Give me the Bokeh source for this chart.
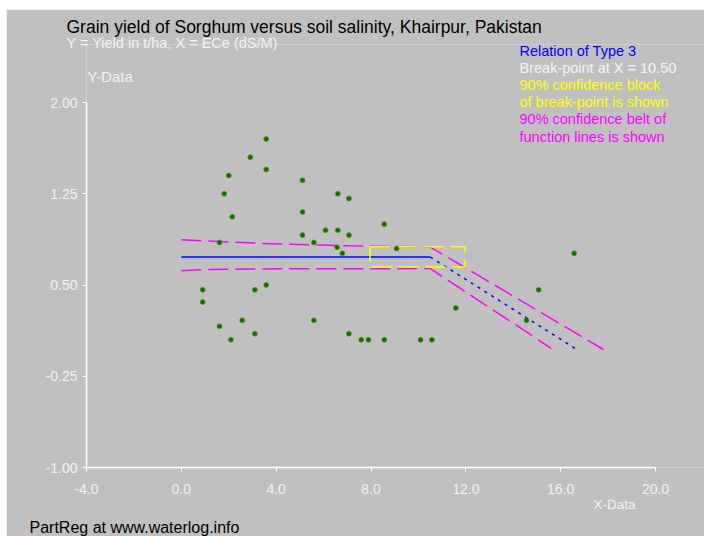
from bokeh.plotting import figure
from bokeh.models import Range1d, FixedTicker, PrintfTickFormatter, Label, Title
from bokeh.embed import file_html
from bokeh.resources import INLINE

# ---- data ----
x_obs = [3.58, 2.91, 2.00, 3.58, 5.11, 1.81, 6.60, 7.07, 2.15, 5.11,
         8.56, 6.08, 6.60, 5.11, 7.07, 1.61, 5.59, 6.57, 9.08, 6.79,
         16.57, 3.58, 0.90, 3.10, 15.07, 0.90, 11.58, 2.57, 5.59, 14.56,
         1.61, 3.10, 7.07, 2.09, 7.59, 7.89, 8.56, 10.09, 10.57]
y_obs = [1.70, 1.55, 1.40, 1.45, 1.36, 1.25, 1.25, 1.21, 1.06, 1.10,
         1.00, 0.95, 0.95, 0.91, 0.91, 0.85, 0.85, 0.81, 0.80, 0.76,
         0.76, 0.50, 0.46, 0.46, 0.46, 0.36, 0.31, 0.21, 0.21, 0.21,
         0.16, 0.10, 0.10, 0.05, 0.05, 0.05, 0.05, 0.05, 0.05]

fit_x = [0.0, 10.5]
fit_y = [0.73, 0.73]
slope_x = [10.5, 16.6]
slope_y = [0.73, -0.02]

belt_up_x = [0.0, 1.1, 3.4, 5.9, 7.1, 10.5, 17.8]
belt_up_y = [0.872, 0.861, 0.842, 0.828, 0.822, 0.812, -0.03]
belt_lo_x = [0.0, 1.1, 4.5, 10.5, 15.6]
belt_lo_y = [0.617, 0.628, 0.633, 0.635, -0.02]

block_x = [7.96, 11.97]
block_y = [0.647, 0.815]

x_ticks = [-4, 0, 4, 8, 12, 16, 20]
y_ticks = [-1.0, -0.25, 0.5, 1.25, 2.0]
x_axis_span = (-4, 20)
y_axis_span = (-1, 2)

legend_lines = ["Relation of Type 3", "Break-point at X = 10.50",
                "90% confidence block", "of break-point is shown",
                "90% confidence belt of", "function lines is shown"]
legend_colors = ["#0000ff", "#f4f4f4", "#ffff00", "#ffff00", "#ff00ff", "#ff00ff"]

# ---- layout (pixels) ----
BG = "#c0c0c0"
LIGHT = "#f2f2f2"
FONT = "Liberation Sans"
OX, OY = 6, 9                    # figure offset on the page
W, H = 704 - OX, 536 - OY
AX_L, AX_R, AX_T, AX_B = 86, 655, 102, 467   # page position of the axis box
FRAME_T = 44                     # frame reaches up to here (page)
FL = AX_L - OX
FT = FRAME_T - OY
FB = 536 - AX_B
FR = 0
px_x = (AX_R - AX_L) / (x_axis_span[1] - x_axis_span[0])
px_y = (AX_B - AX_T) / (y_axis_span[1] - y_axis_span[0])
x_end = x_axis_span[0] + (W - FL - FR) / px_x
y_end = y_axis_span[0] + (H - FT - FB) / px_y

p = figure(width=W, height=H, margin=(OY, 0, 0, OX),
           x_range=Range1d(x_axis_span[0], x_end), y_range=Range1d(y_axis_span[0], y_end),
           output_backend="svg", toolbar_location=None,
           min_border_left=FL, min_border_right=FR, min_border_top=FT, min_border_bottom=FB,
           background_fill_color=BG, border_fill_color=BG, outline_line_color=None)
p.grid.visible = False

for ax in (p.xaxis[0], p.yaxis[0]):
    ax.axis_line_color = "white"
    ax.axis_line_width = 1.5
    ax.major_tick_line_color = "white"
    ax.major_tick_line_width = 1
    ax.major_tick_in = 0
    ax.major_tick_out = 4
    ax.minor_tick_line_color = None
    ax.major_label_text_color = LIGHT
    ax.major_label_text_font = FONT
    ax.major_label_text_font_size = "14px"

p.xaxis.bounds = x_axis_span
p.yaxis.bounds = y_axis_span
p.xaxis.ticker = FixedTicker(ticks=x_ticks)
p.yaxis.ticker = FixedTicker(ticks=y_ticks)
p.xaxis.formatter = PrintfTickFormatter(format="%.1f")
p.yaxis.formatter = PrintfTickFormatter(format="%.2f")
p.xaxis.major_label_standoff = 12
p.yaxis.major_label_standoff = 5

# confidence belt
p.line(belt_up_x, belt_up_y, line_color="#ff00ff", line_width=1.5, line_dash="20 7")
p.line(belt_lo_x, belt_lo_y, line_color="#ff00ff", line_width=1.5, line_dash="20 7")
# fitted relation
p.line(fit_x, fit_y, line_color="#0000ff", line_width=1.5)
p.line(slope_x, slope_y, line_color="#0000ff", line_width=1.5, line_dash="3 5")
# break-point confidence block
p.quad(left=[block_x[0]], right=[block_x[1]], bottom=[block_y[0]], top=[block_y[1]],
       fill_color=None, line_color="#ffff00", line_width=1.5, line_dash="20 7")
# observations
p.scatter(x_obs, y_obs, size=5, fill_color="#007800", line_color="#7a8a20", line_width=0.7)

LABEL_SHIFT = 5   # measured offset of Label baselines


def put(text, px, py, color, size):
    # page position (px, baseline py) -> screen units relative to the frame
    p.add_layout(Label(x=px - AX_L, y=AX_B - py + LABEL_SHIFT, x_units="screen", y_units="screen",
                       text=text, text_color=color, text_font_size=size, text_font=FONT,
                       text_baseline="alphabetic", text_align="left"))


put("Y-Data", 87, 81, LIGHT, "15px")
for i, (t, c) in enumerate(zip(legend_lines, legend_colors)):
    put(t, 519, 55 + i * 17.2, c, "14.5px")


def title(text, side, px, color, size, standoff):
    p.add_layout(Title(text=text, text_color=color, text_font=FONT, text_font_size=size,
                       text_font_style="normal", align="left", offset=px - AX_L,
                       vertical_align="top", standoff=standoff), side)


# texts outside the frame: titles in the side panels (the first one is nearest the frame)
title("Y = Yield in t/ha, X = ECe (dS/M)", "above", 66, LIGHT, "14.5px", -17.2)
title("Grain yield of Sorghum versus soil salinity, Khairpur, Pakistan", "above", 66, "black",
      "17.5px", 7.6)
title("X-Data", "below", 593, LIGHT, "13.5px", 0)
title(" ", "below", 593, BG, "13.5px", -8.5)
title("PartReg at www.waterlog.info", "below", 29, "black", "16px", -7.6)

open("out.html", "w").write(file_html(p, INLINE))
